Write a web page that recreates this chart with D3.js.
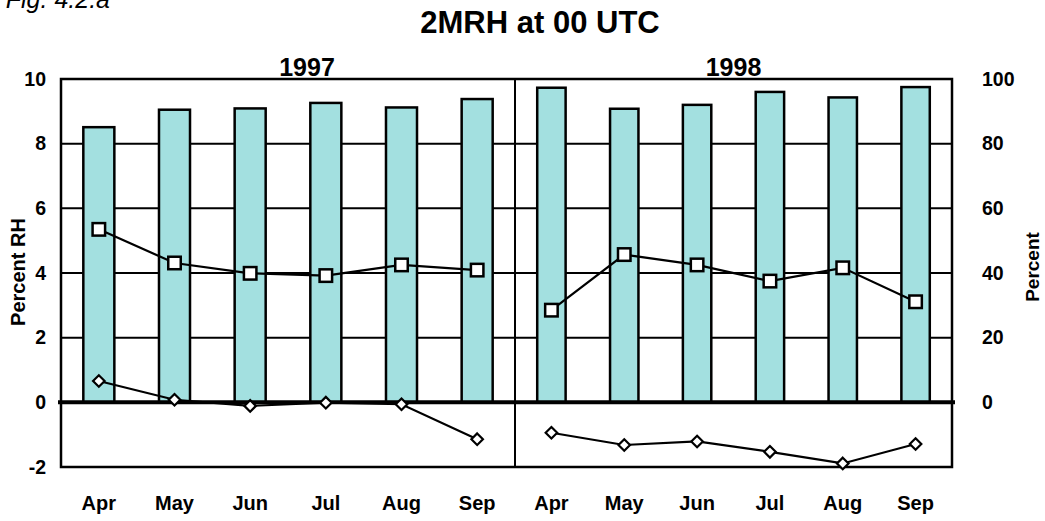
<!DOCTYPE html>
<html>
<head>
<meta charset="utf-8">
<script src="https://cdn.jsdelivr.net/npm/d3@7"></script>
<style>
  html, body { margin: 0; padding: 0; background: #fff; }
  svg { display: block; font-family: Arial, "Liberation Sans", Helvetica, sans-serif; }
</style>
</head>
<body>
<svg id="chart" width="1045" height="521"></svg>
<script>
// ---- data ----
const months = ["Apr", "May", "Jun", "Jul", "Aug", "Sep"];
const years = ["1997", "1998"];
// bars: Percent RH (left axis)
const bars1997 = [8.51, 9.05, 9.09, 9.26, 9.12, 9.38];
const bars1998 = [9.73, 9.08, 9.20, 9.60, 9.43, 9.75];
// squares: Percent (right axis)
const squares1997 = [53.5, 43.1, 39.9, 39.2, 42.5, 40.9];
const squares1998 = [28.5, 45.7, 42.5, 37.5, 41.6, 31.1];
// diamonds: Percent RH (left axis)
const diamonds1997 = [0.66, 0.08, -0.11, -0.01, -0.06, -1.14];
const diamonds1998 = [-0.94, -1.32, -1.21, -1.53, -1.89, -1.29];
const leftTicks = [-2, 0, 2, 4, 6, 8, 10];
const rightTicks = [0, 20, 40, 60, 80, 100];
const gridValues = [2, 4, 6, 8];

// ---- layout ----
const svg = d3.select("#chart");
const L = 61, R = 952, T = 79, B = 467, MID = 515;
const barFill = "#A3E0E0";

const yL = d3.scaleLinear().domain([-2, 10]).range([B, T]);
const yR = d3.scaleLinear().domain([-20, 100]).range([B, T]);
const x97 = d3.scaleBand().domain(months).range([L, MID]).paddingInner(0.59).paddingOuter(0.295);
const x98 = d3.scaleBand().domain(months).range([MID, R]).paddingInner(0.61).paddingOuter(0.305);

const panels = [
  { x: x97, bars: bars1997, sq: squares1997, di: diamonds1997, year: years[0], labelX: 307 },
  { x: x98, bars: bars1998, sq: squares1998, di: diamonds1998, year: years[1], labelX: (MID + R) / 2 }
];

// gridlines
svg.append("g").selectAll("line").data(gridValues).join("line")
  .attr("x1", L).attr("x2", R)
  .attr("y1", d => yL(d)).attr("y2", d => yL(d))
  .attr("stroke", "#000").attr("stroke-width", 2);

// bars
panels.forEach(p => {
  svg.append("g").selectAll("rect").data(p.bars).join("rect")
    .attr("x", (d, i) => p.x(months[i]))
    .attr("width", p.x.bandwidth())
    .attr("y", d => yL(d))
    .attr("height", d => yL(0) - yL(d))
    .attr("fill", barFill)
    .attr("stroke", "#000").attr("stroke-width", 2.5);
});

// frame
svg.append("rect").attr("x", L).attr("y", T).attr("width", R - L).attr("height", B - T)
  .attr("fill", "none").attr("stroke", "#000").attr("stroke-width", 2.5);
svg.append("line").attr("x1", MID).attr("x2", MID).attr("y1", T).attr("y2", B)
  .attr("stroke", "#000").attr("stroke-width", 2);
// zero line
svg.append("line").attr("x1", L - 3).attr("x2", R + 3).attr("y1", yL(0)).attr("y2", yL(0))
  .attr("stroke", "#000").attr("stroke-width", 4);

// lines + markers
panels.forEach(p => {
  const cx = i => p.x(months[i]) + p.x.bandwidth() / 2;
  const lineR = d3.line().x((d, i) => cx(i)).y(d => yR(d));
  const lineL = d3.line().x((d, i) => cx(i)).y(d => yL(d));
  svg.append("path").attr("d", lineR(p.sq)).attr("fill", "none")
    .attr("stroke", "#000").attr("stroke-width", 2.2);
  svg.append("path").attr("d", lineL(p.di)).attr("fill", "none")
    .attr("stroke", "#000").attr("stroke-width", 2.2);
  const sqSize = 12.5;
  svg.append("g").selectAll("rect").data(p.sq).join("rect")
    .attr("x", (d, i) => cx(i) - sqSize / 2).attr("y", d => yR(d) - sqSize / 2)
    .attr("width", sqSize).attr("height", sqSize)
    .attr("fill", "#fff").attr("stroke", "#000").attr("stroke-width", 2.5);
  const dia = d3.symbol().type(d3.symbolDiamond2).size(85);
  svg.append("g").selectAll("path").data(p.di).join("path")
    .attr("d", dia)
    .attr("transform", (d, i) => `translate(${cx(i)},${yL(d)})`)
    .attr("fill", "#fff").attr("stroke", "#000").attr("stroke-width", 2.2);

  // month labels
  svg.append("g").selectAll("text").data(months).join("text")
    .attr("x", (d, i) => cx(i)).attr("y", 510)
    .attr("text-anchor", "middle").attr("font-weight", "bold").attr("font-size", 20)
    .text(d => d);
  // year label
  svg.append("text").attr("x", p.labelX).attr("y", 76)
    .attr("text-anchor", "middle").attr("font-weight", "bold").attr("font-size", 25)
    .text(p.year);
});

// left axis labels
svg.append("g").selectAll("text").data(leftTicks).join("text")
  .attr("x", 46).attr("y", d => yL(d)).attr("dy", "0.35em")
  .attr("text-anchor", "end").attr("font-weight", "bold").attr("font-size", 19.5)
  .text(d => d);
// right axis labels
svg.append("g").selectAll("text").data(rightTicks).join("text")
  .attr("x", 982).attr("y", d => yR(d)).attr("dy", "0.35em")
  .attr("text-anchor", "start").attr("font-weight", "bold").attr("font-size", 19.5)
  .text(d => d);

// axis titles
svg.append("text").attr("transform", "translate(25,272) rotate(-90)")
  .attr("text-anchor", "middle").attr("font-weight", "bold").attr("font-size", 20)
  .text("Percent RH");
svg.append("text").attr("transform", "translate(1039,267) rotate(-90)")
  .attr("text-anchor", "middle").attr("font-weight", "bold").attr("font-size", 19)
  .text("Percent");

// title
svg.append("text").attr("x", 540).attr("y", 33)
  .attr("text-anchor", "middle").attr("font-weight", "bold").attr("font-size", 31)
  .text("2MRH at 00 UTC");
// figure tag
svg.append("text").attr("x", 110).attr("y", 8)
  .attr("text-anchor", "end").attr("font-style", "italic").attr("font-size", 25)
  .text("Fig. 4.2.a");
</script>
</body>
</html>
